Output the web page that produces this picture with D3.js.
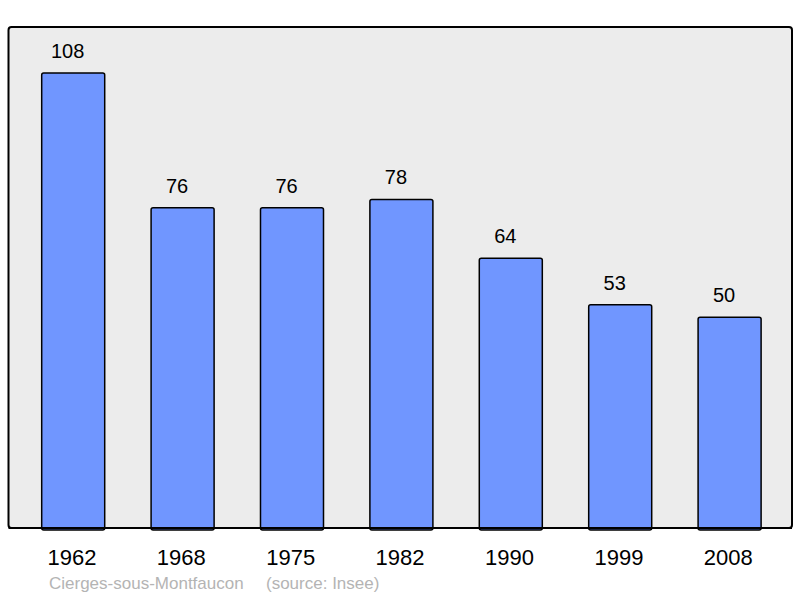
<!DOCTYPE html>
<html><head><meta charset="utf-8">
<script src="https://cdn.jsdelivr.net/npm/d3@7"></script>
<style>body{margin:0;background:#fff}svg{display:block}</style>
</head><body>
<svg id="c" width="800" height="598"></svg>
<script>
const years = ["1962","1968","1975","1982","1990","1999","2008"];
const population = [108,76,76,78,64,53,50];
const placeName = "Cierges-sous-Montfaucon";
const sourceText = "(source: Insee)";

const svg = d3.select("#c");
const font = "'Liberation Sans', Arial, sans-serif";
const plot = {x0: 8.5, y0: 27, x1: 792, y1: 528};

svg.append("rect").attr("x", plot.x0).attr("y", plot.y0)
  .attr("width", plot.x1 - plot.x0).attr("height", plot.y1 - plot.y0)
  .attr("rx", 3).attr("fill", "#ececec").attr("stroke", "#000").attr("stroke-width", 2);

const x = d3.scaleBand().domain(years).range([18.5, 784.3]).paddingInner(0.424).paddingOuter(0.212);
const y = d3.scaleLinear().domain([0, 108]).range([528, 73]);

svg.selectAll("rect.bar").data(years).enter().append("rect").attr("class","bar")
  .attr("x", d => x(d)).attr("width", x.bandwidth())
  .attr("y", (d,i) => y(population[i])).attr("height", (d,i) => y(0) - y(population[i]) + 2)
  .attr("rx", 2).attr("fill", "#7096ff").attr("stroke", "#000").attr("stroke-width", 1.5);

svg.append("line").attr("x1", plot.x0).attr("x2", plot.x1).attr("y1", plot.y1).attr("y2", plot.y1)
  .attr("stroke", "#000").attr("stroke-width", 2);

svg.selectAll("text.val").data(years).enter().append("text").attr("class","val")
  .attr("x", d => x(d) + x.bandwidth()/2 - 5.5).attr("y", (d,i) => y(population[i]) - 15)
  .attr("text-anchor","middle").attr("font-family", font).attr("font-size", 20).attr("fill","#000")
  .text((d,i) => population[i]);

svg.selectAll("text.yr").data(years).enter().append("text").attr("class","yr")
  .attr("x", d => x(d) + x.bandwidth()/2 - 1.3).attr("y", 564.5)
  .attr("text-anchor","middle").attr("font-family", font).attr("font-size", 22).attr("fill","#000")
  .text(d => d);

svg.append("text").attr("x", 49).attr("y", 589).attr("font-family", font).attr("font-size", 17)
  .attr("fill", "#b4b4b4").text(placeName);
svg.append("text").attr("x", 266).attr("y", 589).attr("font-family", font).attr("font-size", 17)
  .attr("fill", "#b4b4b4").text(sourceText);
</script>
</body></html>
